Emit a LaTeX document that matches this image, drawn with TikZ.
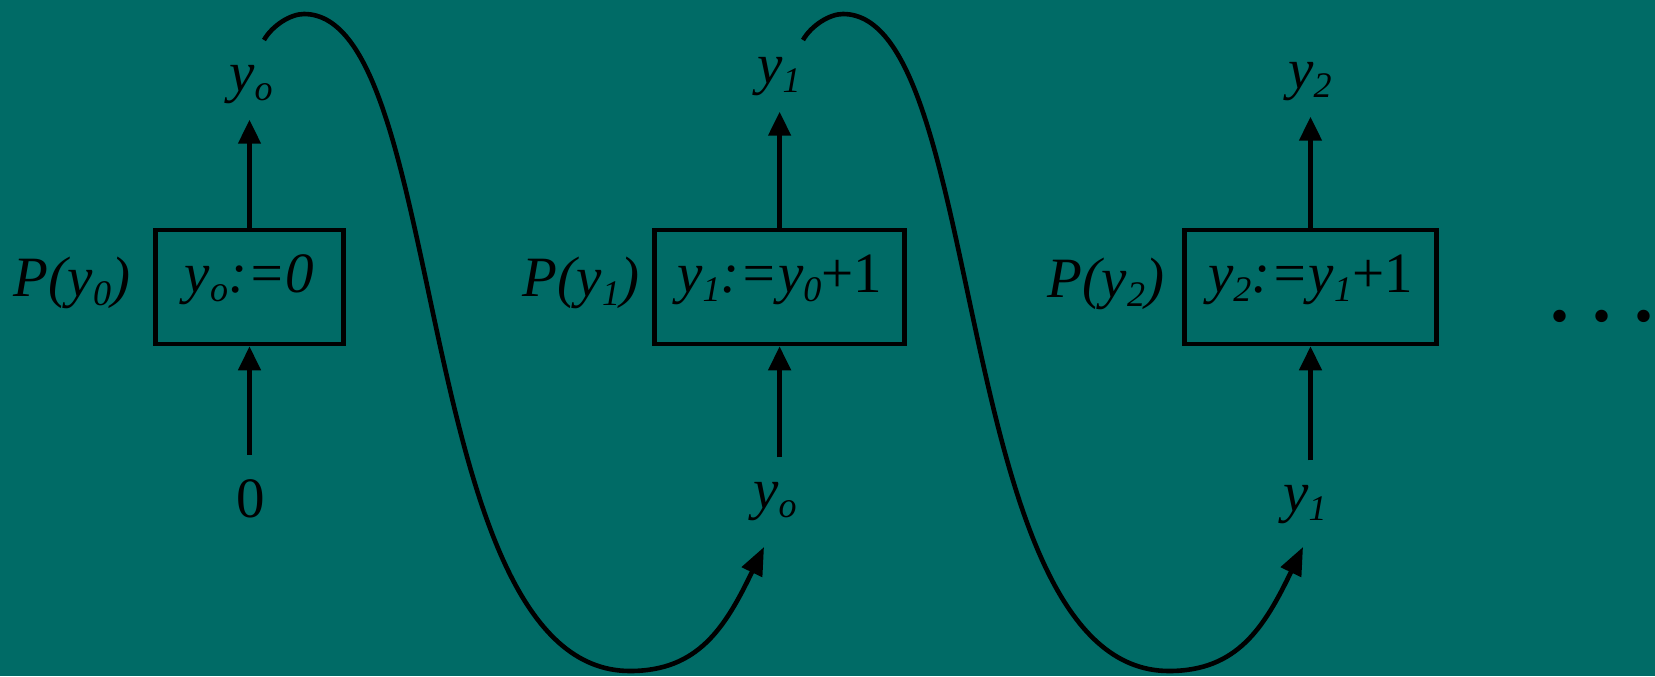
\documentclass[tikz,border=0pt]{standalone}
\usepackage{fontspec}
\setmainfont{Liberation Serif}
\usetikzlibrary{arrows.meta}

\definecolor{slidebg}{HTML}{006B66}
\newcommand{\sbs}[1]{\raisebox{-0.16em}{\fontsize{18pt}{18pt}\selectfont #1}}

\begin{document}
\begin{tikzpicture}[
    x=0.5pt, y=-0.5pt,
    >={Triangle[length=12pt, width=11pt]},
    every node/.style={font=\fontsize{28.5pt}{34pt}\selectfont, inner sep=0pt},
    stmt/.style={draw, line width=2.3pt, minimum height=57pt, text height=16pt, text depth=11pt},
    flow/.style={->, line width=2.3pt},
    hop/.style={-{Triangle[length=14pt, width=11pt]}, line width=2.3pt}
  ]
  % background
  \useasboundingbox (0,0) rectangle (1655,676);
  \fill[slidebg] (0,0) rectangle (1655,676);

  % ---- P(y0) ----
  \node[stmt, minimum width=94pt] (box0) at (249.5,287) {\itshape y\sbs{o}:=0};
  \node[anchor=base] (name0) at (72,296)  {\itshape P(y\sbs{0})};
  \node[anchor=base] (top0)  at (251,91)  {\itshape y\sbs{o}};
  \node[anchor=base] (bot0)  at (251,517) {0};

  % ---- P(y1) ----
  \node[stmt, minimum width=125pt] (box1) at (779.6,287) {\itshape y\sbs{1}:=y\sbs{0}\upshape+1};
  \node[anchor=base] (name1) at (581,296)  {\itshape P(y\sbs{1})};
  \node[anchor=base] (top1)  at (779,83)   {\itshape y\sbs{1}};
  \node[anchor=base] (bot1)  at (775,508)  {\itshape y\sbs{o}};

  % ---- P(y2) ----
  \node[stmt, minimum width=126pt] (box2) at (1310.5,287) {\itshape y\sbs{2}:=y\sbs{1}\upshape+1};
  \node[anchor=base] (name2) at (1106,297) {\itshape P(y\sbs{2})};
  \node[anchor=base] (top2)  at (1310,88)  {\itshape y\sbs{2}};
  \node[anchor=base] (bot2)  at (1305,511) {\itshape y\sbs{1}};

  \node[anchor=base east, font=\fontsize{38pt}{40pt}\selectfont\bfseries] (more) at (1654,321)
    {.\kern11.5pt.\kern11.5pt.};

  % Arrows
  \draw[flow, shorten >=8pt] (box0.north) -- (box0.north |- top0.south);
  \draw[flow, shorten >=8pt] (box1.north) -- (box1.north |- top1.south);
  \draw[flow, shorten >=8pt] (box2.north) -- (box2.north |- top2.south);
  \draw[flow, shorten <=12pt] (box0.south |- bot0.north) -- (box0.south);
  \draw[flow, shorten <=12pt] (box1.south |- bot1.north) -- (box1.south);
  \draw[flow, shorten <=12pt] (box2.south |- bot2.north) -- (box2.south);

  % Hand-over curves
  \coordinate (hop0) at (264,40);
  \coordinate (land0) at (764,547);
  \coordinate (hop1) at (803,40);
  \coordinate (land1) at (1303,547);
  \draw[hop] (hop0) .. controls (272,26) and (290,14) .. (304,14)
    .. controls (449.4,14) and (410.8,671) .. (630,671)
    .. controls (698,671) and (725,628) .. (land0);
  \draw[hop] (hop1) .. controls (811,26) and (829,14) .. (843,14)
    .. controls (988.4,14) and (949.8,671) .. (1169,671)
    .. controls (1237,671) and (1264,628) .. (land1);
\end{tikzpicture}
\end{document}
